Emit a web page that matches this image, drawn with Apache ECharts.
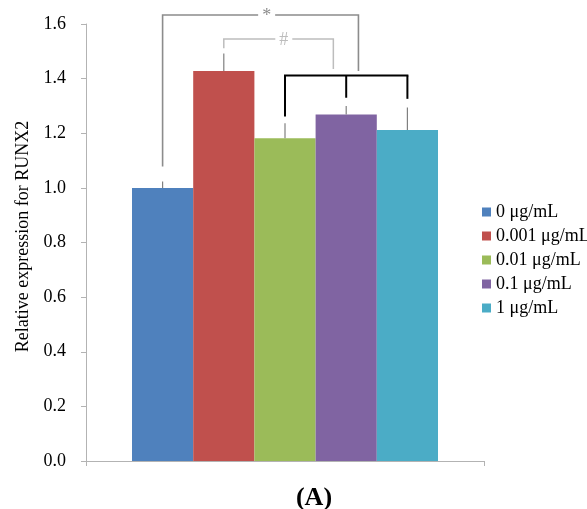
<!DOCTYPE html>
<html>
<head>
<meta charset="utf-8">
<script src="https://cdn.jsdelivr.net/npm/echarts@6/dist/echarts.min.js"></script>
<style>html,body{margin:0;padding:0;background:#fff}#c{width:587px;height:509px}</style>
</head>
<body>
<div id="c"></div>
<script>
// ---- data ----
const categories = ['0 μg/mL', '0.001 μg/mL', '0.01 μg/mL', '0.1 μg/mL', '1 μg/mL'];
const means = [1.000, 1.428, 1.182, 1.269, 1.212];
const errUpper = [1.023, 1.492, 1.237, 1.300, 1.294];
const colors = ['#4F81BD', '#C0504D', '#9BBB59', '#8064A2', '#4BACC6'];
const yMin = 0, yMax = 1.6, yStep = 0.2;
// significance brackets: [xLeft, xRight, topY, leftLegBottom, rightLegBottom, label, labelX]
const sigStar = [0, 3.2, 1.633, 1.078, 1.428, '*', 1.70];
const sigHash = [1, 2.79, 1.545, 1.511, 1.435, '#', 1.98];
// group bracket: horizontal at groupTop from first to last leg, legs [x, bottom]
const groupTop = 1.411;
const groupLegs = [[2, 1.261], [3, 1.330], [4, 1.326]];

const FONT = 'Liberation Serif';
const chart = echarts.init(document.getElementById('c'), null, {renderer: 'canvas'});

const barSeries = categories.map((name, i) => ({
  name: name,
  type: 'bar',
  xAxisIndex: 1,
  yAxisIndex: 1,
  stack: 'all',
  barWidth: '100%',
  itemStyle: {color: colors[i]},
  emphasis: {disabled: true},
  data: categories.map((_, j) => j === i ? means[i] : '-')
}));

// category axis coordinates for fractional positions
function fcoord(api, x, y) {
  const base = Math.floor(x);
  const p = api.coord([base, y]);
  const band = api.size([1, 0])[0];
  return [p[0] + (x - base) * band, p[1]];
}

function bracketRender(b, color, width) {
  return function (params, api) {
    const tl = fcoord(api, b[0], b[2]);
    const tr = fcoord(api, b[1], b[2]);
    const bl = fcoord(api, b[0], b[3]);
    const br = fcoord(api, b[1], b[4]);
    const lab = fcoord(api, b[6], b[2]);
    return {
      type: 'group',
      children: [
        {type: 'polyline', shape: {points: [bl, tl, tr, br]},
         style: {stroke: color, lineWidth: width, fill: null}},
        {type: 'text', x: lab[0], y: lab[1] + 1,
         style: {text: b[5], fill: color, font: '18px ' + FONT, align: 'center',
                 verticalAlign: 'middle', backgroundColor: '#fff', padding: [0, 4, 0, 4]}}
      ]
    };
  };
}

const option = {
  animation: false,
  grid: [
    {left: 86, right: 103, top: 24, bottom: 48},
    {left: 132, width: 306, top: 24, bottom: 48}
  ],
  xAxis: [
    {type: 'category', gridIndex: 0, data: [''], boundaryGap: true,
     axisLine: {lineStyle: {color: '#b3b3b3', width: 1}},
     axisTick: {show: true, length: 5, lineStyle: {color: '#b3b3b3'}},
     axisLabel: {show: false}, splitLine: {show: false}},
    {type: 'category', gridIndex: 1, data: categories, boundaryGap: true, show: false}
  ],
  yAxis: [
    {type: 'value', gridIndex: 0, min: yMin, max: yMax, interval: yStep,
     name: 'Relative expression for RUNX2', nameLocation: 'middle', nameGap: 53,
     nameTextStyle: {fontFamily: FONT, fontSize: 18, color: '#000', padding: [0, 0, 0, 12]},
     axisLine: {show: true, lineStyle: {color: '#b3b3b3', width: 1}},
     axisTick: {show: true, length: 5, lineStyle: {color: '#b3b3b3'}},
     axisLabel: {fontFamily: FONT, fontSize: 18, color: '#000', margin: 20,
                 formatter: v => v.toFixed(1)},
     splitLine: {show: false}},
    {type: 'value', gridIndex: 1, min: yMin, max: yMax, interval: yStep, show: false}
  ],
  legend: {
    orient: 'vertical', left: 477, top: 198, itemWidth: 9, itemHeight: 9, itemGap: 6,
    icon: 'rect', data: categories,
    textStyle: {fontFamily: FONT, fontSize: 18, color: '#000'}
  },
  title: {
    text: '(A)', left: 309, top: 480, textAlign: 'center',
    textStyle: {fontFamily: FONT, fontSize: 26, fontWeight: 'bold', color: '#000'}
  },
  series: barSeries.concat([
    {
      type: 'custom', xAxisIndex: 1, yAxisIndex: 1, silent: true, z: 5,
      data: means.map((m, i) => [i, m, errUpper[i]]),
      renderItem: function (params, api) {
        const a = api.coord([api.value(0), api.value(1)]);
        const b = api.coord([api.value(0), api.value(2)]);
        return {type: 'line', shape: {x1: a[0], y1: a[1], x2: b[0], y2: b[1]},
                style: {stroke: '#808080', lineWidth: 1.2}};
      }
    },
    {
      type: 'custom', xAxisIndex: 1, yAxisIndex: 1, silent: true, z: 6, clip: false,
      data: [[sigStar[0], sigStar[2]]],
      renderItem: bracketRender(sigStar, '#8c8c8c', 1.6)
    },
    {
      type: 'custom', xAxisIndex: 1, yAxisIndex: 1, silent: true, z: 6, clip: false,
      data: [[sigHash[0], sigHash[2]]],
      renderItem: bracketRender(sigHash, '#bdbdbd', 1.5)
    },
    {
      type: 'custom', xAxisIndex: 1, yAxisIndex: 1, silent: true, z: 7, clip: false,
      data: [[groupLegs[0][0], groupTop]],
      renderItem: function (params, api) {
        const first = api.coord([groupLegs[0][0], groupTop]);
        const last = api.coord([groupLegs[groupLegs.length - 1][0], groupTop]);
        const children = [{type: 'line', shape: {x1: first[0] - 1, y1: first[1], x2: last[0] + 1, y2: last[1]},
                           style: {stroke: '#000', lineWidth: 2}}];
        groupLegs.forEach(l => {
          const t = api.coord([l[0], groupTop]);
          const b = api.coord([l[0], l[1]]);
          children.push({type: 'line', shape: {x1: t[0], y1: t[1], x2: b[0], y2: b[1]},
                         style: {stroke: '#000', lineWidth: 2}});
        });
        return {type: 'group', children: children};
      }
    }
  ])
};
chart.setOption(option);
</script>
</body>
</html>
